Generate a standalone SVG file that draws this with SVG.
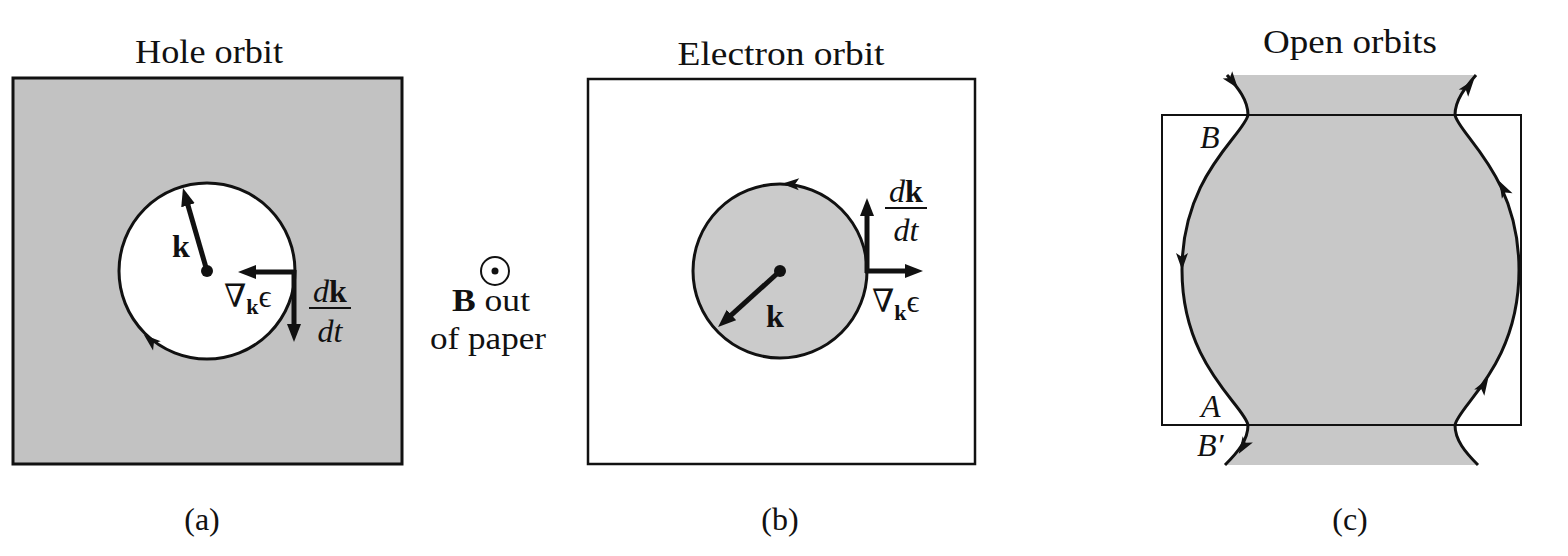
<svg xmlns="http://www.w3.org/2000/svg" xmlns:xlink="http://www.w3.org/1999/xlink" width="1568" height="556" viewBox="0 0 1568 556">
<style>
text{font-family:"Liberation Serif","DejaVu Serif",serif;fill:#111}
.t{font-size:34px}
.l{font-size:32px}
.b{font-weight:bold}
.i{font-style:italic}
.thick{stroke:#111;stroke-width:5;fill:none}
.orb{stroke:#111;stroke-width:3}
.frame{fill:none;stroke:#111;stroke-width:2.5}
</style>
<defs>
<marker id="big" markerUnits="userSpaceOnUse" markerWidth="20" markerHeight="16" viewBox="0 -8 20 16" refX="10" refY="0" orient="auto">
<path d="M0,-7 L18,0 L0,7 Z" fill="#111"/>
</marker>
<path id="ah" d="M8,0 L-9,-6 L-5,0 L-9,6 Z" fill="#111"/>
</defs>

<!-- Panel (a) -->
<g id="panel-a">
<text class="t" x="209" y="63" text-anchor="middle" textLength="148" lengthAdjust="spacingAndGlyphs">Hole orbit</text>
<rect x="13" y="78" width="389" height="386" fill="#c2c2c2" stroke="#111" stroke-width="3"/>
<circle cx="207" cy="271" r="88" fill="#fff" class="orb"/>
<use xlink:href="#ah" transform="translate(150,340) rotate(220)"/>
<circle cx="207" cy="271" r="6" fill="#111"/>
<text class="l b" x="172" y="257">k</text>
<text class="l" x="224" y="307">∇<tspan class="b" font-size="22" dy="7">k</tspan><tspan dy="-7">ϵ</tspan></text>
<text class="l" x="330" y="302" text-anchor="middle"><tspan class="i">d</tspan><tspan class="b">k</tspan></text>
<line x1="309" y1="308" x2="351" y2="308" stroke="#111" stroke-width="2"/>
<text class="l i" x="330" y="342" text-anchor="middle">dt</text>
<text class="l" x="202" y="530" text-anchor="middle">(a)</text>
</g>

<!-- Magnetic field note -->
<g id="b-field">
<circle cx="495" cy="271" r="14" fill="none" stroke="#111" stroke-width="2"/>
<circle cx="495" cy="271" r="3.5" fill="#111"/>
<text class="l" x="452" y="311" textLength="78" lengthAdjust="spacingAndGlyphs"><tspan class="b">B</tspan> out</text>
<text class="l" x="430" y="349" textLength="116" lengthAdjust="spacingAndGlyphs">of paper</text>
</g>

<!-- Panel (b) -->
<g id="panel-b">
<text class="t" x="781" y="65" text-anchor="middle" textLength="207" lengthAdjust="spacingAndGlyphs">Electron orbit</text>
<rect x="588" y="79" width="387" height="385" class="frame"/>
<circle cx="780" cy="271" r="87" fill="#cbcbcb" class="orb"/>
<use xlink:href="#ah" transform="translate(790,184) rotate(182)"/>
<circle cx="780" cy="271" r="6" fill="#111"/>
<text class="l b" x="766" y="327">k</text>
<text class="l" x="872" y="312">∇<tspan class="b" font-size="22" dy="8">k</tspan><tspan dy="-8">ϵ</tspan></text>
<text class="l" x="906" y="202" text-anchor="middle"><tspan class="i">d</tspan><tspan class="b">k</tspan></text>
<line x1="885" y1="208" x2="927" y2="208" stroke="#111" stroke-width="2"/>
<text class="l i" x="906" y="241" text-anchor="middle">dt</text>
<text class="l" x="780" y="530" text-anchor="middle">(b)</text>
</g>

<!-- Panel (c) -->
<g id="panel-c">
<text class="t" x="1350" y="53" text-anchor="middle" textLength="174" lengthAdjust="spacingAndGlyphs">Open orbits</text>
<path d="M1227,75 C1238,88 1248,100 1248,115 C1244,135 1182,175 1182,270 C1182,365 1244,405 1248,425 C1248,440 1238,452 1225,465 L1478,465 C1465,452 1455,440 1455,425 C1459,405 1519,365 1519,270 C1519,175 1459,135 1455,115 C1455,100 1465,88 1476,75 Z" fill="#c8c8c8"/>
<rect x="1162" y="115" width="359" height="310" fill="none" stroke="#111" stroke-width="2"/>
<path id="orbit-left" d="M1227,75 C1238,88 1248,100 1248,115 C1244,135 1182,175 1182,270 C1182,365 1244,405 1248,425 C1248,440 1238,452 1225,465" fill="none" class="orb"/>
<path id="orbit-right" d="M1478,465 C1465,452 1455,440 1455,425 C1459,405 1519,365 1519,270 C1519,175 1459,135 1455,115 C1455,100 1465,88 1476,75" fill="none" class="orb"/>
<use xlink:href="#ah" transform="translate(1233,82) rotate(52)"/>
<use xlink:href="#ah" transform="translate(1182,262) rotate(90)"/>
<use xlink:href="#ah" transform="translate(1243,447) rotate(122)"/>
<use xlink:href="#ah" transform="translate(1469,86) rotate(-52)"/>
<use xlink:href="#ah" transform="translate(1503,188) rotate(-118)"/>
<use xlink:href="#ah" transform="translate(1484,385) rotate(-58)"/>
<text class="l i" x="1200" y="148">B</text>
<text class="l i" x="1201" y="417">A</text>
<text class="l i" x="1197" y="456">B′</text>
<text class="l" x="1350" y="530" text-anchor="middle">(c)</text>
</g>

<!-- Connectors: vectors -->
<g id="connectors">
<line x1="207" y1="271" x2="185.2" y2="195.7" class="thick" marker-end="url(#big)"/>
<line x1="296" y1="272" x2="246" y2="272" class="thick" marker-end="url(#big)"/>
<line x1="294" y1="270" x2="294" y2="334" class="thick" marker-end="url(#big)"/>
<line x1="780" y1="271" x2="724" y2="321.6" class="thick" marker-end="url(#big)"/>
<line x1="865" y1="271" x2="915" y2="271" class="thick" marker-end="url(#big)"/>
<line x1="867" y1="273" x2="867" y2="206" class="thick" marker-end="url(#big)"/>
</g>
</svg>
